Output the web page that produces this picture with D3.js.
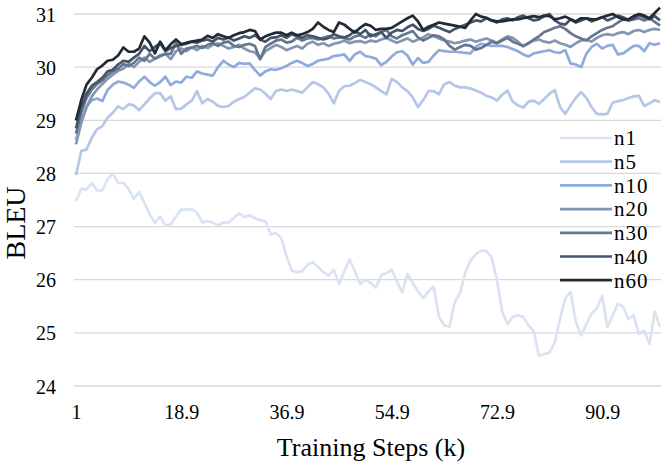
<!DOCTYPE html>
<html>
<head>
<meta charset="utf-8">
<script src="https://cdn.jsdelivr.net/npm/d3@7"></script>
<style>
    body { margin: 0; background: #fff; }
    svg { display: block; }
    text { font-family: "Liberation Serif", "Times New Roman", serif; fill: #000; }
    .grid line { stroke: #d9d9d9; stroke-width: 1.3; }
    .axis path { display: none; }
</style>
</head>
<body>
<svg id="chart" width="664" height="467"></svg>
<script>
// training steps (k), one per evaluated checkpoint
var STEPS = [1, 1.8, 2.7, 3.6, 4.5, 5.4, 6.3, 7.2, 8.1, 9, 9.9, 10.8, 11.7, 12.6, 13.5, 14.4, 15.3, 16.2, 17.1, 18,
    18.9, 19.8, 20.7, 21.6, 22.5, 23.4, 24.3, 25.2, 26.1, 27, 27.9, 28.8, 29.7, 30.6, 31.5, 32.4, 33.3, 34.2, 35.1, 36,
    36.9, 37.8, 38.7, 39.6, 40.5, 41.4, 42.3, 43.2, 44.1, 45, 45.9, 46.8, 47.7, 48.6, 49.5, 50.4, 51.3, 52.2, 53.1, 54,
    54.9, 55.8, 56.7, 57.6, 58.5, 59.4, 60.3, 61.2, 62.1, 63, 63.9, 64.8, 65.7, 66.6, 67.5, 68.4, 69.3, 70.2, 71.1, 72,
    72.9, 73.8, 74.7, 75.6, 76.5, 77.4, 78.3, 79.2, 80.1, 81, 81.9, 82.8, 83.7, 84.6, 85.5, 86.4, 87.3, 88.2, 89.1, 90,
    90.9, 91.8, 92.7, 93.6, 94.5, 95.4, 96.3, 97.2, 98.1, 99, 99.9, 100.8];

var X_TICKS = [1, 18.9, 36.9, 54.9, 72.9, 90.9];
var Y_TICKS = [24, 25, 26, 27, 28, 29, 30, 31];

var SERIES_NAMES = ['n1', 'n5', 'n10', 'n20', 'n30', 'n40', 'n60'];
var SERIES_COLORS = ['#dae3f3', '#b4c7e7', '#8faadc', '#8497b0', '#66768f', '#44546a', '#222a35'];

var n1 = [27.48, 27.71, 27.70, 27.82, 27.68, 27.68, 27.89, 28.00, 27.82, 27.82,
    27.71, 27.52, 27.65, 27.45, 27.23, 27.07, 27.19, 27.02, 27.04, 27.19,
    27.32, 27.32, 27.33, 27.26, 27.08, 27.10, 27.08, 27.02, 27.08, 27.07,
    27.16, 27.25, 27.18, 27.21, 27.16, 27.12, 27.10, 26.85, 26.88, 26.79,
    26.44, 26.18, 26.14, 26.16, 26.28, 26.33, 26.24, 26.14, 26.08, 26.19,
    25.92, 26.16, 26.38, 26.16, 25.92, 26.00, 25.94, 25.85, 26.09, 26.12,
    26.19, 25.97, 25.76, 26.11, 25.94, 25.78, 25.65, 25.78, 25.87, 25.30,
    25.14, 25.12, 25.58, 25.75, 26.14, 26.36, 26.48, 26.55, 26.54, 26.42,
    26.00, 25.40, 25.17, 25.30, 25.33, 25.30, 25.14, 25.04, 24.57, 24.60,
    24.63, 24.82, 25.26, 25.65, 25.77, 25.21, 24.95, 25.17, 25.36, 25.46,
    25.70, 25.11, 25.33, 25.55, 25.49, 25.26, 25.33, 24.98, 25.04, 24.79,
    25.40, 25.11];

var n5 = [27.97, 28.42, 28.45, 28.67, 28.83, 28.89, 29.05, 29.14, 29.26, 29.21,
    29.30, 29.28, 29.19, 29.30, 29.41, 29.51, 29.51, 29.37, 29.45, 29.21,
    29.22, 29.30, 29.37, 29.55, 29.32, 29.40, 29.35, 29.27, 29.25, 29.27,
    29.35, 29.40, 29.44, 29.52, 29.60, 29.58, 29.50, 29.40, 29.55, 29.58,
    29.55, 29.58, 29.55, 29.52, 29.62, 29.72, 29.68, 29.62, 29.50, 29.32,
    29.55, 29.64, 29.65, 29.70, 29.76, 29.72, 29.68, 29.62, 29.55, 29.49,
    29.78, 29.72, 29.62, 29.55, 29.43, 29.25, 29.38, 29.55, 29.55, 29.49,
    29.68, 29.72, 29.65, 29.62, 29.62, 29.60, 29.56, 29.52, 29.46, 29.43,
    29.37, 29.48, 29.56, 29.35, 29.28, 29.24, 29.35, 29.37, 29.31, 29.40,
    29.50, 29.57, 29.25, 29.12, 29.28, 29.42, 29.53, 29.42, 29.25, 29.12,
    29.11, 29.12, 29.33, 29.36, 29.38, 29.42, 29.45, 29.46, 29.27, 29.32,
    29.38, 29.34];

var n10 = [28.63, 29.00, 29.25, 29.38, 29.41, 29.36, 29.57, 29.67, 29.73, 29.71,
    29.67, 29.61, 29.73, 29.82, 29.72, 29.65, 29.72, 29.82, 29.66, 29.73,
    29.71, 29.82, 29.80, 29.92, 29.88, 29.86, 29.84, 30.00, 30.12, 30.05,
    30.00, 30.08, 30.06, 30.07, 29.95, 29.84, 29.92, 29.96, 29.95, 29.98,
    30.02, 30.08, 30.12, 30.08, 30.02, 30.06, 30.12, 30.14, 30.16, 30.21,
    30.22, 30.24, 30.12, 30.24, 30.29, 30.21, 30.19, 30.16, 30.04, 30.10,
    30.20, 30.28, 30.30, 30.22, 30.05, 30.17, 30.08, 30.10, 30.22, 30.32,
    30.30, 30.29, 30.29, 30.28, 30.27, 30.26, 30.38, 30.44, 30.42, 30.40,
    30.40, 30.40, 30.38, 30.34, 30.30, 30.24, 30.20, 30.26, 30.28, 30.30,
    30.32, 30.28, 30.27, 30.32, 30.07, 30.05, 30.00, 30.25, 30.38, 30.44,
    30.35, 30.40, 30.42, 30.24, 30.26, 30.33, 30.40, 30.40, 30.30, 30.45,
    30.42, 30.45];

var n20 = [28.55, 28.95, 29.25, 29.45, 29.58, 29.68, 29.78, 29.86, 29.93, 29.97,
    30.06, 30.00, 30.10, 30.18, 30.10, 30.16, 30.20, 30.25, 30.15, 30.30,
    30.35, 30.30, 30.37, 30.32, 30.40, 30.36, 30.42, 30.45, 30.40, 30.35,
    30.38, 30.42, 30.35, 30.30, 30.28, 30.16, 30.30, 30.36, 30.42, 30.38,
    30.32, 30.36, 30.40, 30.35, 30.44, 30.48, 30.42, 30.45, 30.40, 30.44,
    30.46, 30.50, 30.45, 30.48, 30.49, 30.46, 30.50, 30.48, 30.52, 30.55,
    30.50, 30.46, 30.50, 30.54, 30.48, 30.52, 30.56, 30.62, 30.58, 30.54,
    30.50, 30.48, 30.45, 30.47, 30.50, 30.52, 30.48, 30.51, 30.54, 30.50,
    30.46, 30.52, 30.58, 30.55, 30.48, 30.39, 30.45, 30.50, 30.52, 30.48,
    30.46, 30.50, 30.45, 30.42, 30.38, 30.45, 30.50, 30.52, 30.48, 30.55,
    30.60, 30.62, 30.60, 30.64, 30.66, 30.62, 30.68, 30.70, 30.66, 30.70,
    30.72, 30.70];

var n30 = [28.75, 29.15, 29.42, 29.58, 29.68, 29.75, 29.85, 29.92, 29.97, 30.06,
    30.02, 30.08, 30.18, 30.12, 30.25, 30.16, 30.22, 30.25, 30.25, 30.46,
    30.25, 30.35, 30.37, 30.40, 30.36, 30.42, 30.45, 30.40, 30.46, 30.48,
    30.40, 30.38, 30.42, 30.44, 30.40, 30.15, 30.38, 30.44, 30.50, 30.52,
    30.46, 30.48, 30.55, 30.50, 30.54, 30.55, 30.52, 30.55, 30.58, 30.54,
    30.56, 30.55, 30.52, 30.58, 30.60, 30.55, 30.62, 30.58, 30.66, 30.70,
    30.58, 30.54, 30.60, 30.64, 30.68, 30.56, 30.50, 30.55, 30.60, 30.58,
    30.52, 30.40, 30.33, 30.38, 30.42, 30.40, 30.33, 30.36, 30.42, 30.48,
    30.45, 30.50, 30.55, 30.48, 30.44, 30.40, 30.45, 30.52, 30.58, 30.66,
    30.70, 30.74, 30.77, 30.72, 30.64, 30.58, 30.54, 30.50, 30.58, 30.64,
    30.70, 30.74, 30.77, 30.84, 30.90, 30.88, 30.90, 30.92, 30.88, 30.92,
    30.85, 30.78];

var n40 = [28.85, 29.25, 29.50, 29.65, 29.72, 29.80, 29.92, 29.95, 30.05, 30.12,
    30.10, 30.18, 30.25, 30.40, 30.30, 30.38, 30.45, 30.30, 30.36, 30.40,
    30.42, 30.44, 30.48, 30.46, 30.50, 30.52, 30.48, 30.55, 30.52, 30.56,
    30.50, 30.54, 30.58, 30.55, 30.60, 30.52, 30.48, 30.55, 30.56, 30.60,
    30.55, 30.62, 30.58, 30.55, 30.60, 30.58, 30.55, 30.52, 30.55, 30.62,
    30.58, 30.56, 30.60, 30.68, 30.62, 30.70, 30.58, 30.62, 30.66, 30.55,
    30.65, 30.70, 30.68, 30.75, 30.80, 30.72, 30.68, 30.72, 30.78, 30.74,
    30.70, 30.66, 30.72, 30.76, 30.80, 30.84, 30.88, 30.86, 30.92, 30.88,
    30.84, 30.90, 30.92, 30.88, 30.94, 30.97, 30.92, 30.88, 30.90, 30.96,
    31.00, 30.88, 30.82, 30.80, 30.90, 30.84, 30.88, 30.92, 30.86, 30.90,
    30.94, 30.88, 30.92, 30.97, 30.94, 30.88, 30.92, 30.98, 30.94, 30.90,
    30.96, 30.88];

var n60 = [29.00, 29.38, 29.67, 29.80, 29.96, 30.03, 30.12, 30.14, 30.22, 30.37,
    30.29, 30.29, 30.35, 30.58, 30.46, 30.26, 30.48, 30.32, 30.43, 30.52,
    30.43, 30.46, 30.48, 30.50, 30.52, 30.59, 30.55, 30.62, 30.58, 30.55,
    30.60, 30.64, 30.66, 30.70, 30.68, 30.52, 30.58, 30.62, 30.65, 30.65,
    30.60, 30.65, 30.60, 30.62, 30.66, 30.72, 30.84, 30.76, 30.70, 30.66,
    30.84, 30.80, 30.72, 30.65, 30.74, 30.81, 30.78, 30.70, 30.72, 30.72,
    30.74, 30.80, 30.86, 30.92, 30.97, 30.86, 30.70, 30.76, 30.80, 30.84,
    30.82, 30.80, 30.78, 30.76, 30.74, 30.88, 31.00, 30.95, 30.93, 30.88,
    30.86, 30.86, 30.88, 30.90, 30.90, 30.92, 30.94, 30.96, 30.94, 30.97,
    30.96, 30.90, 30.92, 30.95, 30.90, 30.86, 30.92, 30.92, 30.90, 30.90,
    30.94, 30.97, 31.00, 30.94, 30.90, 30.90, 30.96, 31.00, 30.97, 30.92,
    31.02, 31.12];

var SERIES_VALUES = [n1, n5, n10, n20, n30, n40, n60];

function main() {
    var svg = d3.select('#chart');

    var x = d3.scalePoint().domain(STEPS).range([76, 660]);
    var y = d3.scaleLinear().domain([24, 31]).range([386, 14]);

    // horizontal gridlines
    svg.append('g')
        .attr('class', 'grid')
        .selectAll('line')
        .data(Y_TICKS)
        .enter().append('line')
        .attr('x1', 74)
        .attr('x2', 661)
        .attr('y1', function(d) { return y(d); })
        .attr('y2', function(d) { return y(d); });

    var yAxis = svg.append('g')
        .attr('class', 'axis')
        .attr('transform', 'translate(56,0)')
        .call(d3.axisLeft(y).tickValues(Y_TICKS).tickSize(0).tickPadding(0).tickFormat(d3.format('d')));
    yAxis.selectAll('text')
        .style('font-size', '20px')
        .attr('dy', '0.35em');

    var xAxis = svg.append('g')
        .attr('class', 'axis')
        .attr('transform', 'translate(0,401)')
        .call(d3.axisBottom(x).tickValues(X_TICKS).tickSize(0).tickPadding(0));
    xAxis.selectAll('text')
        .style('font-size', '20px')
        .attr('dy', '0.9em');

    // series, lightest first so the dark ones sit on top
    var line = d3.line()
        .x(function(d, i) { return x(STEPS[i]); })
        .y(function(d) { return y(d); });

    svg.append('g')
        .selectAll('path')
        .data(SERIES_VALUES)
        .enter().append('path')
        .attr('d', line)
        .attr('fill', 'none')
        .attr('stroke', function(d, i) { return SERIES_COLORS[i]; })
        .attr('stroke-width', 2.7)
        .attr('stroke-linejoin', 'round');

    // legend
    var legend = svg.append('g').attr('transform', 'translate(560,138)');
    var item = legend.selectAll('g')
        .data(SERIES_NAMES)
        .enter().append('g')
        .attr('transform', function(d, i) { return 'translate(0,' + (i * 23.7) + ')'; });
    item.append('line')
        .attr('x1', 0)
        .attr('x2', 52)
        .attr('stroke', function(d, i) { return SERIES_COLORS[i]; })
        .attr('stroke-width', 2.7);
    item.append('text')
        .attr('x', 54)
        .attr('dy', '0.35em')
        .style('font-size', '21px')
        .style('letter-spacing', '1px')
        .text(function(d) { return d; });

    // axis titles
    svg.append('text')
        .attr('x', 371)
        .attr('y', 456)
        .attr('text-anchor', 'middle')
        .style('font-size', '26px')
        .text('Training Steps (k)');

    svg.append('text')
        .attr('transform', 'translate(25,223) rotate(-90)')
        .attr('text-anchor', 'middle')
        .style('font-size', '28px')
        .text('BLEU');
}

main();
</script>
</body>
</html>
